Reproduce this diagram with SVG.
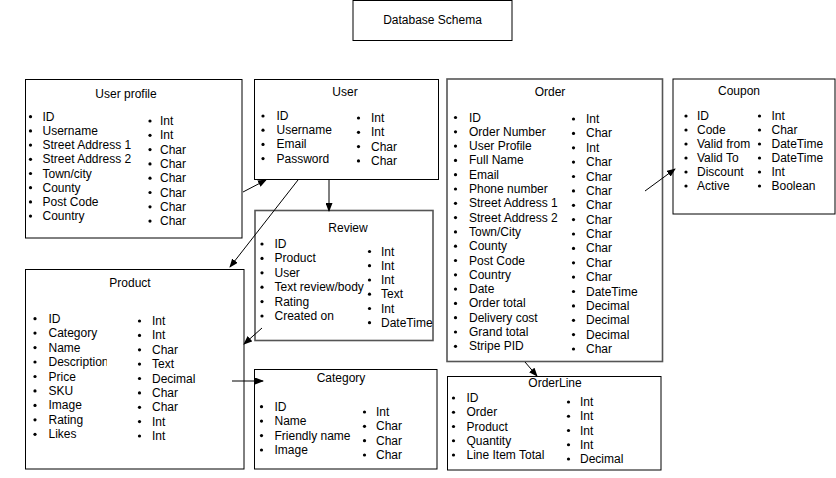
<svg xmlns="http://www.w3.org/2000/svg" width="836" height="478" viewBox="0 0 836 478">
<style>
text{font-family:"Liberation Sans",Arial,sans-serif;font-size:12px;fill:#000}
.t{text-anchor:middle}
.box{fill:#fff;stroke:#000;stroke-width:1}
.gbox{fill:#fff;stroke:#555;stroke-width:1.6}
.b{fill:#000}
.c{stroke:#000;stroke-width:1;fill:none}
</style>
<defs>
<marker id="ah" markerWidth="9" markerHeight="7" refX="8" refY="3.5" orient="auto" markerUnits="userSpaceOnUse"><path d="M0,0 L9,3.5 L0,7 z" fill="#000"/></marker>
<clipPath id="descclip"><rect x="40" y="350" width="66.8" height="20"/></clipPath>
</defs>
<rect width="836" height="478" fill="#fff"/>

<g id="title">
<rect class="box" x="353" y="0.5" width="159" height="40"/>
<text class="t" x="432.5" y="24">Database Schema</text>
</g>

<g id="userprofile">
<rect class="box" x="25.5" y="79.5" width="216.5" height="158.5"/>
<text class="t" x="126" y="97.7">User profile</text>
<g class="b">
<circle cx="30.5" cy="116.7" r="1.6"/><circle cx="30.5" cy="130.9" r="1.6"/><circle cx="30.5" cy="145.1" r="1.6"/><circle cx="30.5" cy="159.3" r="1.6"/><circle cx="30.5" cy="173.5" r="1.6"/><circle cx="30.5" cy="187.7" r="1.6"/><circle cx="30.5" cy="201.9" r="1.6"/><circle cx="30.5" cy="216.1" r="1.6"/>
<circle cx="150" cy="121" r="1.6"/><circle cx="150" cy="135.3" r="1.6"/><circle cx="150" cy="149.6" r="1.6"/><circle cx="150" cy="163.9" r="1.6"/><circle cx="150" cy="178.2" r="1.6"/><circle cx="150" cy="192.5" r="1.6"/><circle cx="150" cy="206.8" r="1.6"/><circle cx="150" cy="221.1" r="1.6"/>
</g>
<text x="42.5" y="120.7">ID</text><text x="42.5" y="134.9">Username</text><text x="42.5" y="149.1">Street Address 1</text><text x="42.5" y="163.3">Street Address 2</text><text x="42.5" y="177.5">Town/city</text><text x="42.5" y="191.7">County</text><text x="42.5" y="205.9">Post Code</text><text x="42.5" y="220.1">Country</text>
<text x="160" y="125">Int</text><text x="160" y="139.3">Int</text><text x="160" y="153.6">Char</text><text x="160" y="167.9">Char</text><text x="160" y="182.2">Char</text><text x="160" y="196.5">Char</text><text x="160" y="210.8">Char</text><text x="160" y="225.1">Char</text>
</g>

<g id="user">
<rect class="box" x="254.5" y="79.5" width="184" height="100"/>
<text class="t" x="345" y="95.5">User</text>
<g class="b">
<circle cx="263" cy="116" r="1.6"/><circle cx="263" cy="130.2" r="1.6"/><circle cx="263" cy="144.4" r="1.6"/><circle cx="263" cy="158.6" r="1.6"/>
<circle cx="358.5" cy="118" r="1.6"/><circle cx="358.5" cy="132.3" r="1.6"/><circle cx="358.5" cy="146.6" r="1.6"/><circle cx="358.5" cy="160.9" r="1.6"/>
</g>
<text x="276.5" y="120">ID</text><text x="276.5" y="134.2">Username</text><text x="276.5" y="148.4">Email</text><text x="276.5" y="162.6">Password</text>
<text x="371" y="122">Int</text><text x="371" y="136.3">Int</text><text x="371" y="150.6">Char</text><text x="371" y="164.9">Char</text>
</g>

<g id="order">
<rect class="gbox" x="447" y="79" width="215.5" height="282.5"/>
<text class="t" x="550" y="95.7">Order</text>
<g class="b">
<circle cx="455.5" cy="117.5" r="1.6"/><circle cx="455.5" cy="131.8" r="1.6"/><circle cx="455.5" cy="146.1" r="1.6"/><circle cx="455.5" cy="160.4" r="1.6"/><circle cx="455.5" cy="174.7" r="1.6"/><circle cx="455.5" cy="189" r="1.6"/><circle cx="455.5" cy="203.3" r="1.6"/><circle cx="455.5" cy="217.6" r="1.6"/><circle cx="455.5" cy="231.9" r="1.6"/><circle cx="455.5" cy="246.2" r="1.6"/><circle cx="455.5" cy="260.5" r="1.6"/><circle cx="455.5" cy="274.8" r="1.6"/><circle cx="455.5" cy="289.1" r="1.6"/><circle cx="455.5" cy="303.4" r="1.6"/><circle cx="455.5" cy="317.7" r="1.6"/><circle cx="455.5" cy="332" r="1.6"/><circle cx="455.5" cy="346.3" r="1.6"/>
<circle cx="573.5" cy="119" r="1.6"/><circle cx="573.5" cy="133.4" r="1.6"/><circle cx="573.5" cy="147.8" r="1.6"/><circle cx="573.5" cy="162.1" r="1.6"/><circle cx="573.5" cy="176.5" r="1.6"/><circle cx="573.5" cy="190.9" r="1.6"/><circle cx="573.5" cy="205.3" r="1.6"/><circle cx="573.5" cy="219.6" r="1.6"/><circle cx="573.5" cy="234" r="1.6"/><circle cx="573.5" cy="248.4" r="1.6"/><circle cx="573.5" cy="262.8" r="1.6"/><circle cx="573.5" cy="277.1" r="1.6"/><circle cx="573.5" cy="291.5" r="1.6"/><circle cx="573.5" cy="305.9" r="1.6"/><circle cx="573.5" cy="320.3" r="1.6"/><circle cx="573.5" cy="334.6" r="1.6"/><circle cx="573.5" cy="349" r="1.6"/>
</g>
<text x="469" y="121.5">ID</text><text x="469" y="135.8">Order Number</text><text x="469" y="150.1">User Profile</text><text x="469" y="164.4">Full Name</text><text x="469" y="178.7">Email</text><text x="469" y="193">Phone number</text><text x="469" y="207.3">Street Address 1</text><text x="469" y="221.6">Street Address 2</text><text x="469" y="235.9">Town/City</text><text x="469" y="250.2">County</text><text x="469" y="264.5">Post Code</text><text x="469" y="278.8">Country</text><text x="469" y="293.1">Date</text><text x="469" y="307.4">Order total</text><text x="469" y="321.7">Delivery cost</text><text x="469" y="336">Grand total</text><text x="469" y="350.3">Stripe PID</text>
<text x="586" y="123">Int</text><text x="586" y="137.4">Char</text><text x="586" y="151.8">Int</text><text x="586" y="166.1">Char</text><text x="586" y="180.5">Char</text><text x="586" y="194.9">Char</text><text x="586" y="209.3">Char</text><text x="586" y="223.6">Char</text><text x="586" y="238">Char</text><text x="586" y="252.4">Char</text><text x="586" y="266.8">Char</text><text x="586" y="281.1">Char</text><text x="586" y="295.5">DateTime</text><text x="586" y="309.9">Decimal</text><text x="586" y="324.3">Decimal</text><text x="586" y="338.6">Decimal</text><text x="586" y="353">Char</text>
</g>

<g id="coupon">
<rect class="box" x="673" y="79" width="162" height="135"/>
<text class="t" x="739" y="95">Coupon</text>
<g class="b">
<circle cx="686" cy="116" r="1.6"/><circle cx="686" cy="130" r="1.6"/><circle cx="686" cy="144" r="1.6"/><circle cx="686" cy="158" r="1.6"/><circle cx="686" cy="172" r="1.6"/><circle cx="686" cy="186" r="1.6"/>
<circle cx="759.5" cy="116" r="1.6"/><circle cx="759.5" cy="130" r="1.6"/><circle cx="759.5" cy="144" r="1.6"/><circle cx="759.5" cy="158" r="1.6"/><circle cx="759.5" cy="172" r="1.6"/><circle cx="759.5" cy="186" r="1.6"/>
</g>
<text x="697" y="120">ID</text><text x="697" y="134">Code</text><text x="697" y="148">Valid from</text><text x="697" y="162">Valid To</text><text x="697" y="176">Discount</text><text x="697" y="190">Active</text>
<text x="771.5" y="120">Int</text><text x="771.5" y="134">Char</text><text x="771.5" y="148">DateTime</text><text x="771.5" y="162">DateTime</text><text x="771.5" y="176">Int</text><text x="771.5" y="190">Boolean</text>
</g>

<g id="review">
<rect class="gbox" x="255" y="210.5" width="178" height="130"/>
<text class="t" x="348" y="232.3">Review</text>
<g class="b">
<circle cx="262" cy="244" r="1.6"/><circle cx="262" cy="258.4" r="1.6"/><circle cx="262" cy="272.8" r="1.6"/><circle cx="262" cy="287.2" r="1.6"/><circle cx="262" cy="301.6" r="1.6"/><circle cx="262" cy="316" r="1.6"/>
<circle cx="369.5" cy="251.5" r="1.6"/><circle cx="369.5" cy="265.7" r="1.6"/><circle cx="369.5" cy="280" r="1.6"/><circle cx="369.5" cy="294.2" r="1.6"/><circle cx="369.5" cy="308.5" r="1.6"/><circle cx="369.5" cy="322.7" r="1.6"/>
</g>
<text x="274.5" y="248">ID</text><text x="274.5" y="262.4">Product</text><text x="274.5" y="276.8">User</text><text x="274.5" y="291.2">Text review/body</text><text x="274.5" y="305.6">Rating</text><text x="274.5" y="320">Created on</text>
<text x="381" y="255.5">Int</text><text x="381" y="269.7">Int</text><text x="381" y="284">Int</text><text x="381" y="298.2">Text</text><text x="381" y="312.5">Int</text><text x="381" y="326.7">DateTime</text>
</g>

<g id="product">
<rect class="box" x="25.5" y="269.5" width="218.5" height="199.5"/>
<text class="t" x="130" y="287.3">Product</text>
<g class="b">
<circle cx="35" cy="318.7" r="1.6"/><circle cx="35" cy="333.1" r="1.6"/><circle cx="35" cy="347.6" r="1.6"/><circle cx="35" cy="362" r="1.6"/><circle cx="35" cy="376.5" r="1.6"/><circle cx="35" cy="390.9" r="1.6"/><circle cx="35" cy="405.4" r="1.6"/><circle cx="35" cy="419.8" r="1.6"/><circle cx="35" cy="434.3" r="1.6"/>
<circle cx="139.5" cy="321" r="1.6"/><circle cx="139.5" cy="335.4" r="1.6"/><circle cx="139.5" cy="349.8" r="1.6"/><circle cx="139.5" cy="364.1" r="1.6"/><circle cx="139.5" cy="378.5" r="1.6"/><circle cx="139.5" cy="392.9" r="1.6"/><circle cx="139.5" cy="407.3" r="1.6"/><circle cx="139.5" cy="421.6" r="1.6"/><circle cx="139.5" cy="436" r="1.6"/>
</g>
<text x="48.5" y="322.7">ID</text><text x="48.5" y="337.1">Category</text><text x="48.5" y="351.6">Name</text><text x="48.5" y="366" clip-path="url(#descclip)">Description</text><text x="48.5" y="380.5">Price</text><text x="48.5" y="394.9">SKU</text><text x="48.5" y="409.4">Image</text><text x="48.5" y="423.8">Rating</text><text x="48.5" y="438.3">Likes</text>
<text x="152" y="325">Int</text><text x="152" y="339.4">Int</text><text x="152" y="353.8">Char</text><text x="152" y="368.1">Text</text><text x="152" y="382.5">Decimal</text><text x="152" y="396.9">Char</text><text x="152" y="411.3">Char</text><text x="152" y="425.6">Int</text><text x="152" y="440">Int</text>
</g>

<g id="category">
<rect class="box" x="254.5" y="369.5" width="182.5" height="99.5"/>
<text class="t" x="341" y="382">Category</text>
<g class="b">
<circle cx="261.5" cy="406.7" r="1.6"/><circle cx="261.5" cy="421.1" r="1.6"/><circle cx="261.5" cy="435.6" r="1.6"/><circle cx="261.5" cy="450" r="1.6"/>
<circle cx="364.5" cy="412" r="1.6"/><circle cx="364.5" cy="426.3" r="1.6"/><circle cx="364.5" cy="440.7" r="1.6"/><circle cx="364.5" cy="455" r="1.6"/>
</g>
<text x="274.5" y="410.7">ID</text><text x="274.5" y="425.1">Name</text><text x="274.5" y="439.6">Friendly name</text><text x="274.5" y="454">Image</text>
<text x="376" y="416">Int</text><text x="376" y="430.3">Char</text><text x="376" y="444.7">Char</text><text x="376" y="459">Char</text>
</g>

<g id="orderline">
<rect class="box" x="447.5" y="376.5" width="213.5" height="93.5"/>
<text class="t" x="555" y="386.7">OrderLine</text>
<g class="b">
<circle cx="453.5" cy="398" r="1.6"/><circle cx="453.5" cy="412.25" r="1.6"/><circle cx="453.5" cy="426.5" r="1.6"/><circle cx="453.5" cy="440.75" r="1.6"/><circle cx="453.5" cy="455" r="1.6"/>
<circle cx="568.5" cy="402" r="1.6"/><circle cx="568.5" cy="416.25" r="1.6"/><circle cx="568.5" cy="430.5" r="1.6"/><circle cx="568.5" cy="444.75" r="1.6"/><circle cx="568.5" cy="459" r="1.6"/>
</g>
<text x="466.5" y="402">ID</text><text x="466.5" y="416.25">Order</text><text x="466.5" y="430.5">Product</text><text x="466.5" y="444.75">Quantity</text><text x="466.5" y="459">Line Item Total</text>
<text x="580" y="406">Int</text><text x="580" y="420.25">Int</text><text x="580" y="434.5">Int</text><text x="580" y="448.75">Int</text><text x="580" y="463">Decimal</text>
</g>

<g id="connectors">
<line class="c" x1="243" y1="192" x2="266" y2="180" marker-end="url(#ah)"/>
<line class="c" x1="298" y1="180" x2="230" y2="267" marker-end="url(#ah)"/>
<line class="c" x1="329" y1="180" x2="329" y2="211" marker-end="url(#ah)"/>
<line class="c" x1="262" y1="328" x2="244" y2="344" marker-end="url(#ah)"/>
<line class="c" x1="232" y1="381" x2="263" y2="381" marker-end="url(#ah)"/>
<line class="c" x1="525" y1="362" x2="537" y2="376" marker-end="url(#ah)"/>
<line class="c" x1="645" y1="191" x2="675" y2="169" marker-end="url(#ah)"/>
</g>
</svg>
